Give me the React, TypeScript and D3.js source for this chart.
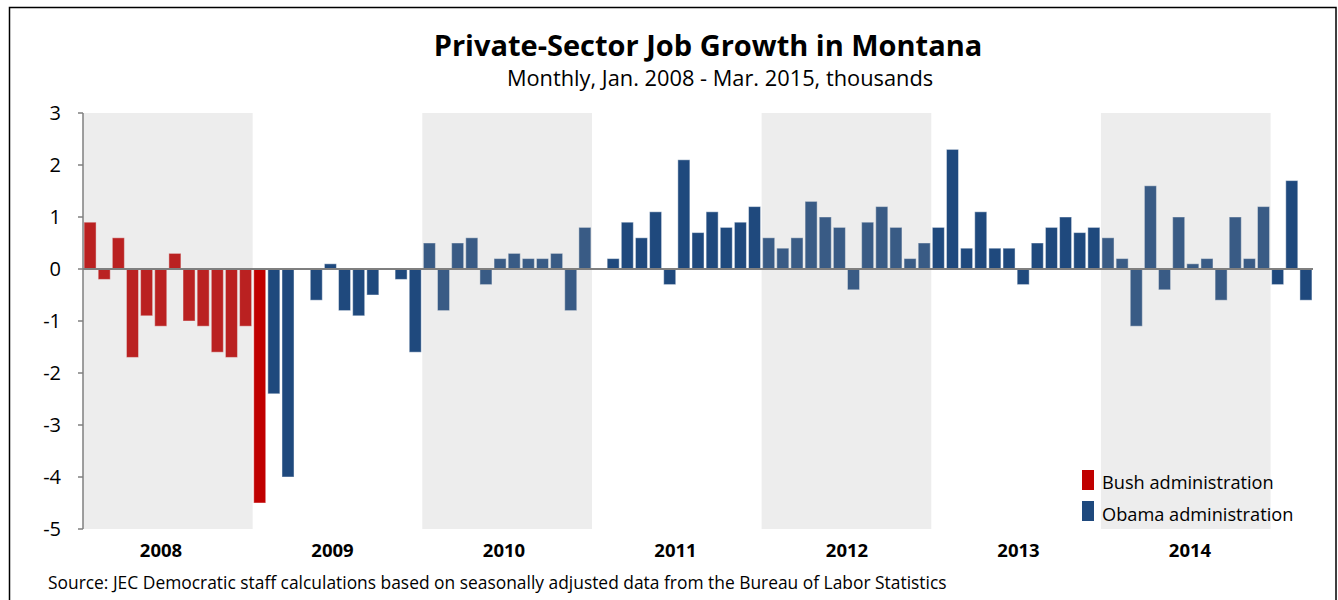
import React from "react";
import * as d3 from "d3";

const values: number[] = [
  // 2008
  0.9, -0.2, 0.6, -1.7, -0.9, -1.1, 0.3, -1.0, -1.1, -1.6, -1.7, -1.1,
  // 2009
  -4.5, -2.4, -4.0, 0.0, -0.6, 0.1, -0.8, -0.9, -0.5, 0.0, -0.2, -1.6,
  // 2010
  0.5, -0.8, 0.5, 0.6, -0.3, 0.2, 0.3, 0.2, 0.2, 0.3, -0.8, 0.8,
  // 2011
  0.0, 0.2, 0.9, 0.6, 1.1, -0.3, 2.1, 0.7, 1.1, 0.8, 0.9, 1.2,
  // 2012
  0.6, 0.4, 0.6, 1.3, 1.0, 0.8, -0.4, 0.9, 1.2, 0.8, 0.2, 0.5,
  // 2013
  0.8, 2.3, 0.4, 1.1, 0.4, 0.4, -0.3, 0.5, 0.8, 1.0, 0.7, 0.8,
  // 2014
  0.6, 0.2, -1.1, 1.6, -0.4, 1.0, 0.1, 0.2, -0.6, 1.0, 0.2, 1.2,
  // 2015
  -0.3, 1.7, -0.6,
];
const bushMonths = 13; // Jan 2008 - Jan 2009
const years = ["2008", "2009", "2010", "2011", "2012", "2013", "2014"];
const shadedYears = [0, 2, 4, 6];
const yTicks = [3, 2, 1, 0, -1, -2, -3, -4, -5];
const legendItems = [
  { label: "Bush administration", color: "#C00000" },
  { label: "Obama administration", color: "#1F497D" },
];

const FONT = "'Open Sans', Lato, sans-serif";

export default function App() {
  const left = 83;
  const right = 1313;
  const top = 113;
  const bottom = 529;
  const idx = values.map((_, i) => i);
  const x = d3.scaleBand<number>().domain(idx).range([left, right]).paddingInner(0.15).paddingOuter(0.075);
  const slot = d3.scaleLinear().domain([0, values.length]).range([left, right]);
  const y = d3.scaleLinear().domain([-5, 3]).range([bottom, top]);
  const yearLabelX = d3.scalePoint<string>().domain(years).range([161, 1190]);

  return (
    <svg width={1338} height={600} style={{ position: "absolute", left: 0, top: 0, background: "#fff" }}>
      <rect x={9.5} y={7.5} width={1326.5} height={600} fill="#fff" stroke="#000" strokeWidth={1.5} />
      <text x={708} y={56} textAnchor="middle" fontFamily={FONT} fontWeight={700} fontSize={29} fill="#000">
        Private-Sector Job Growth in Montana
      </text>
      <text x={720} y={86} textAnchor="middle" fontFamily={FONT} fontSize={21.8} fill="#000">
        Monthly, Jan. 2008 - Mar. 2015, thousands
      </text>

      {/* bars */}
      {values.map((v, i) => (
        <rect
          key={i}
          x={x(i)}
          width={x.bandwidth()}
          y={Math.min(y(v), y(0))}
          height={Math.abs(y(v) - y(0))}
          fill={i < bushMonths ? "#C00000" : "#1F497D"}
          stroke="#ffffff"
          strokeOpacity={0.45}
          strokeWidth={1}
        />
      ))}

      {/* shaded year bands (overlay) */}
      {shadedYears.map((k) => (
        <rect
          key={k}
          x={slot(k * 12)}
          width={slot(12) - slot(0)}
          y={top}
          height={bottom - top}
          fill="rgb(165,165,165)"
          fillOpacity={0.2}
        />
      ))}

      {/* y axis */}
      <line x1={left} x2={left} y1={top} y2={bottom} stroke="#7F7F7F" strokeWidth={1.5} />
      {yTicks.map((t) => (
        <g key={t}>
          <line x1={left - 5} x2={left} y1={y(t)} y2={y(t)} stroke="#7F7F7F" strokeWidth={1.5} />
          <text x={61} y={y(t)} dy="0.36em" textAnchor="end" fontFamily={FONT} fontSize={20} fill="#000">
            {t}
          </text>
        </g>
      ))}
      <line x1={left} x2={right} y1={y(0)} y2={y(0)} stroke="#7F7F7F" strokeWidth={2} />

      {/* year labels */}
      {years.map((yr) => (
        <text key={yr} x={yearLabelX(yr)} y={557} textAnchor="middle" fontFamily={FONT} fontWeight={700} fontSize={18.5} fill="#000">
          {yr}
        </text>
      ))}

      {/* legend */}
      {legendItems.map((it, i) => (
        <g key={it.label}>
          <rect x={1082} y={470 + i * 31} width={12} height={20} fill={it.color} />
          <text x={1102} y={489 + i * 32} fontFamily={FONT} fontSize={18.2} fill="#000">
            {it.label}
          </text>
        </g>
      ))}

      <text x={48} y={589} fontFamily={FONT} fontSize={17.4} fill="#000">
        Source: JEC Democratic staff calculations based on seasonally adjusted data from the Bureau of Labor Statistics
      </text>
    </svg>
  );
}
